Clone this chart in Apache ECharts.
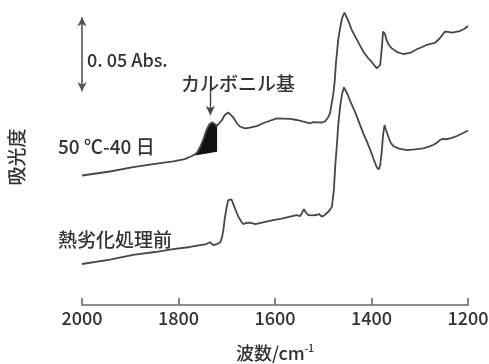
<!DOCTYPE html>
<html>
<head>
<meta charset="utf-8">
<script src="https://cdn.jsdelivr.net/npm/echarts@6/dist/echarts.min.js"></script>
<style>
  html, body { margin: 0; padding: 0; background: #fff; }
  #chart { width: 489px; height: 364px; }
</style>
</head>
<body>
<div id="chart"></div>
<script>
// IR spectra (absorbance, offset for display) vs wavenumber
const xTicks = [2000, 1800, 1600, 1400, 1200];

// 50 ℃ - 40 日 aged sample (upper trace)
const agedWavenumber = [2000, 1942, 1894, 1849, 1811, 1787, 1772, 1762, 1755, 1749, 1742, 1737, 1731, 1726, 1721, 1716, 1710, 1704, 1697, 1693, 1687, 1679, 1673, 1662, 1652, 1638, 1621, 1596, 1569, 1554, 1541, 1527, 1521, 1517, 1510, 1503, 1496, 1490, 1486, 1482, 1479, 1476, 1474, 1469, 1465, 1461, 1456, 1452, 1447, 1441, 1430, 1417, 1407, 1400, 1389, 1385, 1382, 1379, 1376, 1372, 1369, 1364, 1358, 1347, 1334, 1320, 1306, 1295, 1286, 1277, 1268, 1258, 1248, 1241, 1234, 1225, 1217, 1208, 1200];
const agedAbs = [0.0875, 0.0902, 0.0932, 0.0953, 0.0970, 0.0986, 0.1007, 0.1027, 0.1068, 0.1115, 0.1182, 0.1216, 0.1234, 0.1226, 0.1211, 0.1226, 0.1250, 0.1284, 0.1301, 0.1301, 0.1270, 0.1228, 0.1206, 0.1194, 0.1199, 0.1209, 0.1233, 0.1261, 0.1257, 0.1250, 0.1239, 0.1228, 0.1236, 0.1245, 0.1234, 0.1233, 0.1241, 0.1267, 0.1295, 0.1372, 0.1430, 0.1520, 0.1622, 0.1791, 0.1872, 0.1939, 0.1975, 0.1966, 0.1912, 0.1858, 0.1791, 0.1712, 0.1669, 0.1644, 0.1599, 0.1595, 0.1622, 0.1723, 0.1847, 0.1831, 0.1791, 0.1757, 0.1734, 0.1709, 0.1696, 0.1703, 0.1728, 0.1743, 0.1757, 0.1764, 0.1772, 0.1804, 0.1847, 0.1845, 0.1840, 0.1845, 0.1851, 0.1865, 0.1885];

// untreated sample (lower trace)
const freshWavenumber = [2000, 1942, 1894, 1849, 1811, 1776, 1755, 1742, 1735, 1728, 1720, 1714, 1710, 1707, 1704, 1700, 1697, 1693, 1690, 1687, 1681, 1676, 1670, 1666, 1660, 1652, 1641, 1627, 1604, 1586, 1569, 1555, 1548, 1544, 1540, 1536, 1531, 1523, 1514, 1509, 1503, 1498, 1493, 1488, 1482, 1480, 1478, 1475, 1472, 1469, 1465, 1461, 1457, 1453, 1449, 1445, 1434, 1426, 1417, 1409, 1400, 1395, 1389, 1385, 1382, 1379, 1376, 1373, 1370, 1365, 1361, 1355, 1343, 1327, 1310, 1293, 1283, 1272, 1264, 1258, 1252, 1244, 1235, 1223, 1212, 1200];
const freshAbs = [0.0277, 0.0307, 0.0338, 0.0358, 0.0378, 0.0392, 0.0405, 0.0412, 0.0424, 0.0405, 0.0412, 0.0422, 0.0453, 0.0507, 0.0588, 0.0664, 0.0709, 0.0721, 0.0713, 0.0687, 0.0635, 0.0597, 0.0564, 0.0547, 0.0554, 0.0556, 0.0547, 0.0557, 0.0574, 0.0584, 0.0597, 0.0608, 0.0601, 0.0622, 0.0647, 0.0625, 0.0608, 0.0605, 0.0608, 0.0615, 0.0597, 0.0605, 0.0620, 0.0635, 0.0664, 0.0723, 0.0777, 0.0946, 0.1070, 0.1216, 0.1340, 0.1426, 0.1471, 0.1459, 0.1419, 0.1385, 0.1304, 0.1236, 0.1160, 0.1101, 0.1025, 0.0980, 0.0930, 0.0916, 0.0946, 0.1027, 0.1149, 0.1216, 0.1182, 0.1137, 0.1101, 0.1074, 0.1057, 0.1047, 0.1051, 0.1059, 0.1068, 0.1081, 0.1098, 0.1115, 0.1122, 0.1120, 0.1128, 0.1142, 0.1159, 0.1179];

// carbonyl band shaded under the aged trace: [from, to] and baseline ends
const carbonylRange = [1766, 1720];
const carbonylBaseline = [0.1010, 0.1036];

// scale bar (0.05 Abs.) and carbonyl pointer
const scaleBar = { wavenumber: 2000, base: 0.1445, size: 0.05 };
const carbonylPointer = { wavenumber: 1734, from: 0.1453, to: 0.1284 };

const zip = (xs, ys) => xs.map((x, i) => [x, ys[i]]);
const agedData = zip(agedWavenumber, agedAbs);
const freshData = zip(freshWavenumber, freshAbs);

function agedAt(wn) {
  for (let i = 0; i < agedData.length - 1; i++) {
    const a = agedData[i], b = agedData[i + 1];
    if (wn <= a[0] && wn >= b[0]) {
      const t = (a[0] - wn) / (a[0] - b[0]);
      return a[1] + t * (b[1] - a[1]);
    }
  }
  return null;
}

const FONT = '"Noto Sans CJK JP", "Noto Sans", sans-serif';
const INK = '#333333';
const LINE = '#474747';
const W = 500;

const chart = echarts.init(document.getElementById('chart'), null, { renderer: 'canvas' });

chart.setOption({
  animation: false,
  backgroundColor: '#ffffff',
  grid: { left: 82, right: 21, top: 9, bottom: 59, containLabel: false, outerBoundsMode: 'none' },
  xAxis: {
    type: 'value',
    inverse: true,
    min: 1200,
    max: 2000,
    interval: 200,
    axisLine: { show: true, lineStyle: { color: '#6a6a6a', width: 1.6 } },
    axisTick: { show: true, inside: true, length: 7, lineStyle: { color: '#6a6a6a', width: 1.6 } },
    axisLabel: {
      show: true, margin: 4, color: INK, fontSize: 18, fontFamily: FONT, fontWeight: W,
      formatter: function (v) { return xTicks.indexOf(v) >= 0 ? String(v) : ''; }
    },
    splitLine: { show: false },
    name: '波数/cm{sup|-1}',
    nameLocation: 'middle',
    nameGap: 38,
    nameTextStyle: {
      color: INK, fontSize: 18, fontFamily: FONT, fontWeight: W,
      rich: { sup: { fontSize: 10, verticalAlign: 'top', color: INK, fontFamily: FONT, fontWeight: W, padding: [0, 0, 10, 0] } }
    }
  },
  yAxis: {
    type: 'value',
    min: 0,
    max: 0.2,
    axisLine: { show: false },
    axisTick: { show: false },
    axisLabel: { show: false },
    splitLine: { show: false },
    name: '吸光度',
    nameLocation: 'middle',
    nameRotate: 90,
    nameGap: 56,
    nameTextStyle: { color: INK, fontSize: 19, fontFamily: FONT, fontWeight: W }
  },
  series: [
    {
      type: 'custom',
      coordinateSystem: 'cartesian2d',
      data: [[carbonylRange[0], carbonylBaseline[0]]],
      z: 1,
      renderItem: function (params, api) {
        const pts = [];
        pts.push(api.coord([carbonylRange[0], carbonylBaseline[0]]));
        pts.push(api.coord([carbonylRange[0], agedAt(carbonylRange[0])]));
        agedData.forEach(function (p) {
          if (p[0] < carbonylRange[0] && p[0] > carbonylRange[1]) pts.push(api.coord(p));
        });
        pts.push(api.coord([carbonylRange[1], agedAt(carbonylRange[1])]));
        pts.push(api.coord([carbonylRange[1], carbonylBaseline[1]]));
        return { type: 'polygon', shape: { points: pts }, style: { fill: '#111111' } };
      }
    },
    {
      name: '50 ℃-40 日',
      type: 'line',
      data: agedData,
      showSymbol: false,
      lineStyle: { color: LINE, width: 1.8 },
      z: 2,
      markLine: {
        silent: true,
        symbol: ['arrow', 'arrow'],
        symbolSize: [7, 9],
        label: { show: false },
        lineStyle: { color: '#555', width: 1.6, type: 'solid' },
        data: [
          [
            { coord: [scaleBar.wavenumber, scaleBar.base] },
            { coord: [scaleBar.wavenumber, scaleBar.base + scaleBar.size] }
          ]
        ]
      }
    },
    {
      name: '熱劣化処理前',
      type: 'line',
      data: freshData,
      showSymbol: false,
      lineStyle: { color: LINE, width: 1.8 },
      z: 2,
      markLine: {
        silent: true,
        symbol: ['none', 'arrow'],
        symbolSize: [7, 9],
        label: { show: false },
        lineStyle: { color: '#444', width: 1.4, type: 'solid' },
        data: [
          [
            { coord: [carbonylPointer.wavenumber, carbonylPointer.from] },
            { coord: [carbonylPointer.wavenumber, carbonylPointer.to] }
          ]
        ]
      }
    }
  ],
  graphic: [
    { type: 'text', x: 87, y: 60, style: { text: '0. 05 Abs.', font: W + ' 18px ' + FONT, fill: INK, align: 'left', verticalAlign: 'middle' } },
    { type: 'text', x: 238, y: 84, style: { text: 'カルボニル基', font: W + ' 19px ' + FONT, fill: INK, align: 'center', verticalAlign: 'middle' } },
    { type: 'text', x: 58, y: 147, style: { text: '50 ℃-40 日', font: W + ' 19px ' + FONT, fill: INK, align: 'left', verticalAlign: 'middle' } },
    { type: 'text', x: 58, y: 240, style: { text: '熱劣化処理前', font: W + ' 19px ' + FONT, fill: INK, align: 'left', verticalAlign: 'middle' } }
  ]
});
</script>
</body>
</html>
